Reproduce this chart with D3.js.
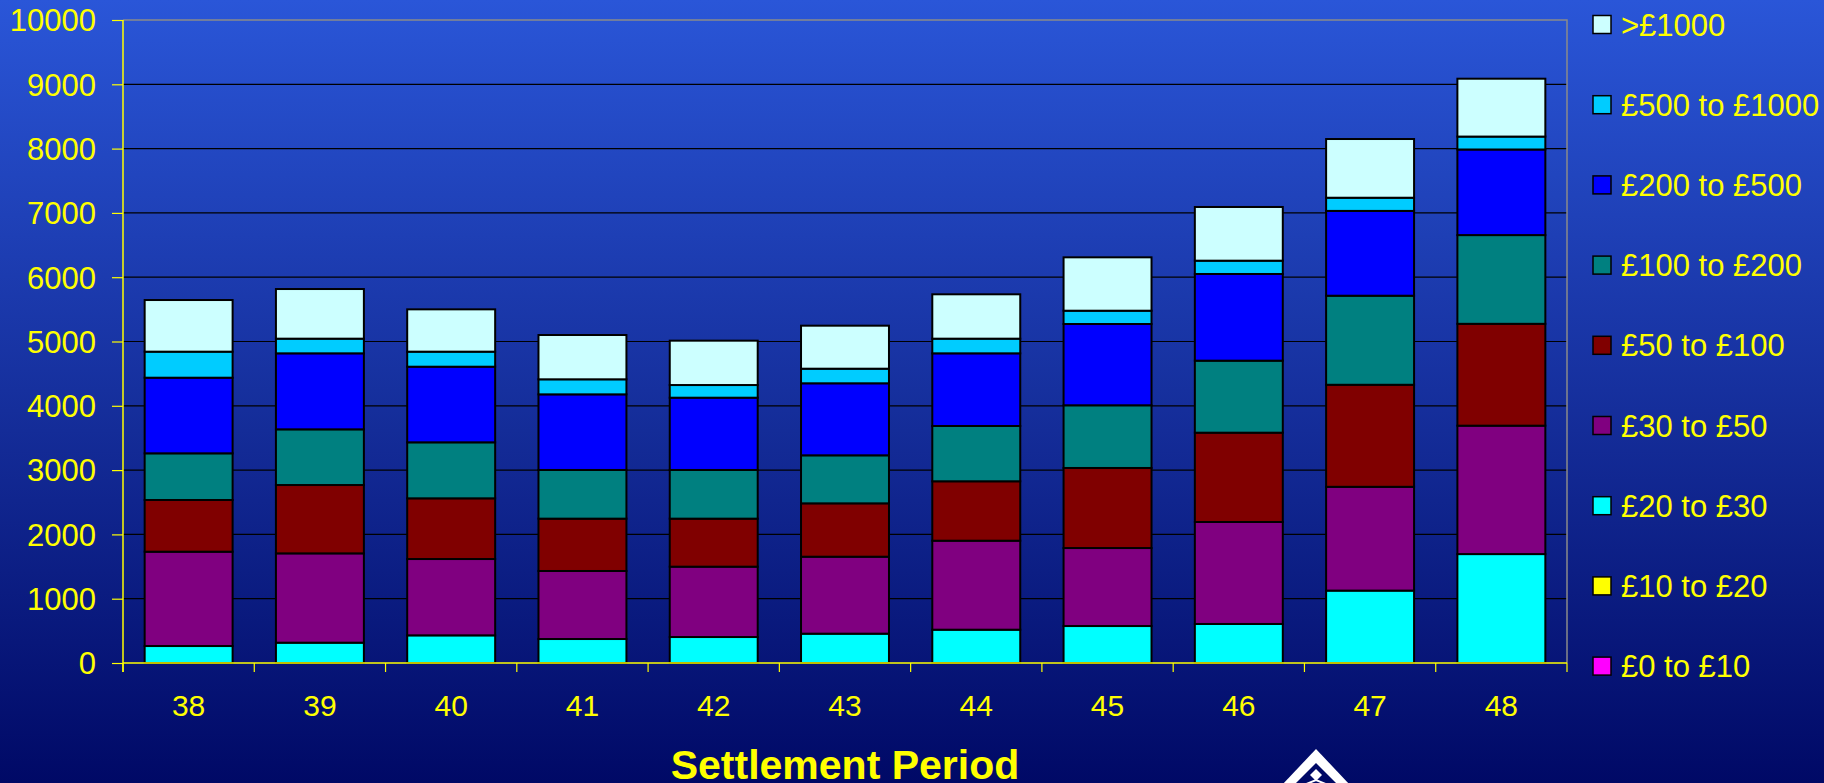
<!DOCTYPE html>
<html>
<head>
<meta charset="utf-8">
<script src="https://cdn.jsdelivr.net/npm/d3@7"></script>
<style>
  html, body { margin: 0; padding: 0; overflow: hidden; }
  svg { display: block; }
  text { font-family: "Liberation Sans", Arial, Helvetica, sans-serif; fill: #FFFF00; }
</style>
</head>
<body>
<svg id="chart" width="1824" height="783"></svg>
<script>
// ---- Data ----
const categories = ["38","39","40","41","42","43","44","45","46","47","48"];
const seriesNames = ["£0 to £10","£10 to £20","£20 to £30","£30 to £50","£50 to £100","£100 to £200","£200 to £500","£500 to £1000",">£1000"];
const seriesColors = ["#FF00FF","#FFFF00","#00FFFF","#800080","#800000","#008080","#0000FF","#00CCFF","#CCFFFF"];
const s0to10     = [0,0,0,0,0,0,0,0,0,0,0];
const s10to20    = [0,0,0,0,0,0,0,0,0,0,0];
const s20to30    = [264,316,430,373,404,456,518,575,607,1126,1694];
const s30to50    = [1467,1389,1187,1058,1094,1197,1384,1213,1586,1614,1997];
const s50to100   = [804,1063,944,814,747,830,924,1245,1389,1587,1584];
const s100to200  = [726,866,871,757,757,747,860,975,1120,1385,1380];
const s200to500  = [1176,1182,1176,1176,1124,1120,1130,1264,1348,1319,1331];
const s500to1000 = [405,228,234,234,197,227,228,207,207,205,201];
const sOver1000  = [803,772,658,689,690,669,690,830,835,913,900];
const yTicks = [0,1000,2000,3000,4000,5000,6000,7000,8000,9000,10000];
const xTitle = "Settlement Period";

const seriesValues = [s0to10,s10to20,s20to30,s30to50,s50to100,s100to200,s200to500,s500to1000,sOver1000];

// ---- Layout ----
const svg = d3.select("#chart");
const W = 1824, H = 783;
const plot = {left: 123, right: 1567, top: 20, bottom: 663};

// background gradient
const defs = svg.append("defs");
const grad = defs.append("linearGradient").attr("id","bg").attr("x1",0).attr("y1",0).attr("x2",0).attr("y2",1);
grad.append("stop").attr("offset","0%").attr("stop-color","#2a56d8");
grad.append("stop").attr("offset","55%").attr("stop-color","#142c98");
grad.append("stop").attr("offset","100%").attr("stop-color","#000966");
svg.append("rect").attr("width",W).attr("height",H).attr("fill","url(#bg)");

const x = d3.scaleBand().domain(categories).range([plot.left, plot.right]).paddingInner(0.33).paddingOuter(0.165);
const y = d3.scaleLinear().domain([0,10000]).range([plot.bottom, plot.top]);

// gridlines
svg.append("g").selectAll("line").data(yTicks.filter(t => t > 0 && t < 10000)).join("line")
  .attr("x1", plot.left).attr("x2", plot.right)
  .attr("y1", d => y(d)).attr("y2", d => y(d))
  .attr("stroke", "#000000").attr("stroke-width", 1.2);

// plot border (top & right, gray)
svg.append("path")
  .attr("d", `M${plot.left},${y(10000)}H${plot.right}V${plot.bottom}`)
  .attr("fill","none").attr("stroke","#8a8a8a").attr("stroke-width",1.5);

// stacked data
const table = categories.map((c,i) => {
  const o = {cat: c};
  seriesNames.forEach((s,k) => o[s] = seriesValues[k][i]);
  return o;
});
const stacked = d3.stack().keys(seriesNames)(table);

const layers = svg.append("g").selectAll("g").data(stacked).join("g")
  .attr("fill", (d,i) => seriesColors[i]);
layers.selectAll("rect").data(d => d.filter(p => p[1] - p[0] > 0)).join("rect")
  .attr("x", d => x(d.data.cat))
  .attr("width", x.bandwidth())
  .attr("y", d => y(d[1]))
  .attr("height", d => y(d[0]) - y(d[1]))
  .attr("stroke", "#000000").attr("stroke-width", 2);

// y axis
const yAxis = d3.axisLeft(y).tickValues(yTicks).tickSize(11).tickPadding(16).tickFormat(d3.format("d"));
const gy = svg.append("g").attr("transform", `translate(${plot.left},0)`).call(yAxis);
gy.select(".domain").attr("stroke","#FFFF00").attr("stroke-width",1.5).attr("d", `M0,${plot.top}V${plot.bottom + 9}`);
gy.selectAll(".tick line").attr("stroke","#FFFF00").attr("stroke-width",1.2);
gy.selectAll(".tick text").style("font-size","31px").attr("fill","#FFFF00").attr("dy","0.35em");

// x axis
const gx = svg.append("g").attr("transform", `translate(0,${plot.bottom})`);
gx.append("line").attr("x1", plot.left).attr("x2", plot.right).attr("y1",0).attr("y2",0)
  .attr("stroke","#FFFF00").attr("stroke-width",1.5);
const boundaries = categories.map(c => x(c) - x.step()*x.paddingInner()/2).concat([plot.right]);
gx.selectAll("line.tk").data(boundaries).join("line").attr("class","tk")
  .attr("x1", d => d).attr("x2", d => d).attr("y1", 0).attr("y2", 9)
  .attr("stroke","#FFFF00").attr("stroke-width",1.2);
gx.selectAll("text").data(categories).join("text")
  .attr("x", d => x(d) + x.bandwidth()/2).attr("y", 53)
  .attr("text-anchor","middle").style("font-size","30px").text(d => d);

// x title
svg.append("text").attr("x", (plot.left + plot.right)/2).attr("y", 779).attr("text-anchor","middle")
  .style("font-size","41px").style("font-weight","bold").text(xTitle);

// legend (reverse order, top = >£1000)
const legendItems = seriesNames.map((s,i) => ({name: s, color: seriesColors[i]})).reverse();
const lg = svg.append("g").selectAll("g").data(legendItems).join("g")
  .attr("transform", (d,i) => `translate(1593,${24.5 + i*80.2})`);
lg.append("rect").attr("x",0).attr("y",-9).attr("width",18).attr("height",18)
  .attr("fill", d => d.color).attr("stroke","#000").attr("stroke-width",1.5);
lg.append("text").attr("x",28).attr("y",11).style("font-size","31px").text(d => d.name);

// logo (decorative roof emblem, partly cut off)
const logo = svg.append("g").attr("transform","translate(1316,749)");
logo.append("path").attr("d","M0,0 L34,36 L-34,36 Z").attr("fill","#ffffff");
logo.append("path").attr("d","M0,14 L22,36 L-22,36 Z").attr("fill","#000966");
logo.append("path").attr("d","M0,20 L6,26 L0,32 L-6,26 Z").attr("fill","#ffffff");
logo.append("path").attr("d","M-12,36 L0,31 L12,36").attr("fill","none").attr("stroke","#ffffff").attr("stroke-width",2);
</script>
</body>
</html>
